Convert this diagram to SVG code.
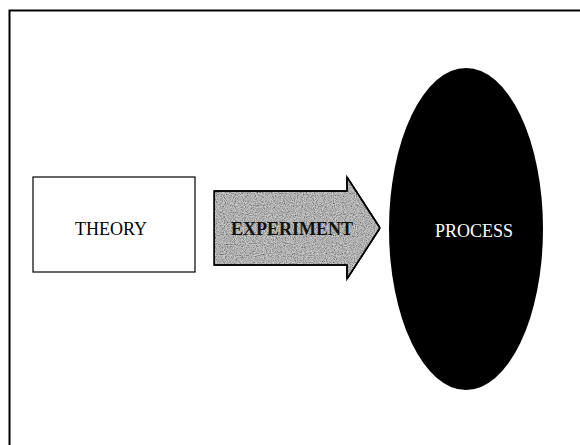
<svg xmlns="http://www.w3.org/2000/svg" width="580" height="445" viewBox="0 0 580 445">
  <style>
    .lbl { font-family: "Liberation Serif", "Times New Roman", serif; font-size: 18px; text-anchor: middle; }
  </style>
  <defs>
    <filter id="grain" x="0" y="0" width="100%" height="100%">
      <feTurbulence type="fractalNoise" baseFrequency="0.9" numOctaves="2" seed="3" result="n"/>
      <feColorMatrix in="n" type="matrix" values="0 0 0 0 0  0 0 0 0 0  0 0 0 0 0  0 0 0 -1.6 1.05" result="dots"/>
      <feComposite in="dots" in2="SourceGraphic" operator="in" result="clip"/>
      <feMerge><feMergeNode in="SourceGraphic"/><feMergeNode in="clip"/></feMerge>
    </filter>
  </defs>
  <rect width="580" height="445" fill="#ffffff"/>
  <g id="frame" fill="none" stroke="#000" stroke-width="2">
    <polyline points="9.5,445 9.5,10.5 580,10.5"/>
  </g>
  <g id="theory">
    <rect x="33" y="177" width="162" height="95" fill="#fff" stroke="#000" stroke-width="1.2"/>
    <text class="lbl" x="111" y="235">THEORY</text>
  </g>
  <g id="connectors">
    <g id="experiment">
      <polygon points="214,191 347,191 347,177 380,228 347,279 347,265 214,265" fill="#c8c8c8" stroke="#000" stroke-width="1.5" filter="url(#grain)"/>
      <polygon points="214,191 347,191 347,177 380,228 347,279 347,265 214,265" fill="none" stroke="#000" stroke-width="1.5"/>
      <text class="lbl" x="292" y="235" font-weight="bold" font-size="16" textLength="122" lengthAdjust="spacingAndGlyphs" fill="#111">EXPERIMENT</text>
    </g>
  </g>
  <g id="process">
    <ellipse cx="466" cy="229" rx="77" ry="161" fill="#000"/>
    <text class="lbl" x="474" y="237" fill="#fff">PROCESS</text>
  </g>
</svg>
